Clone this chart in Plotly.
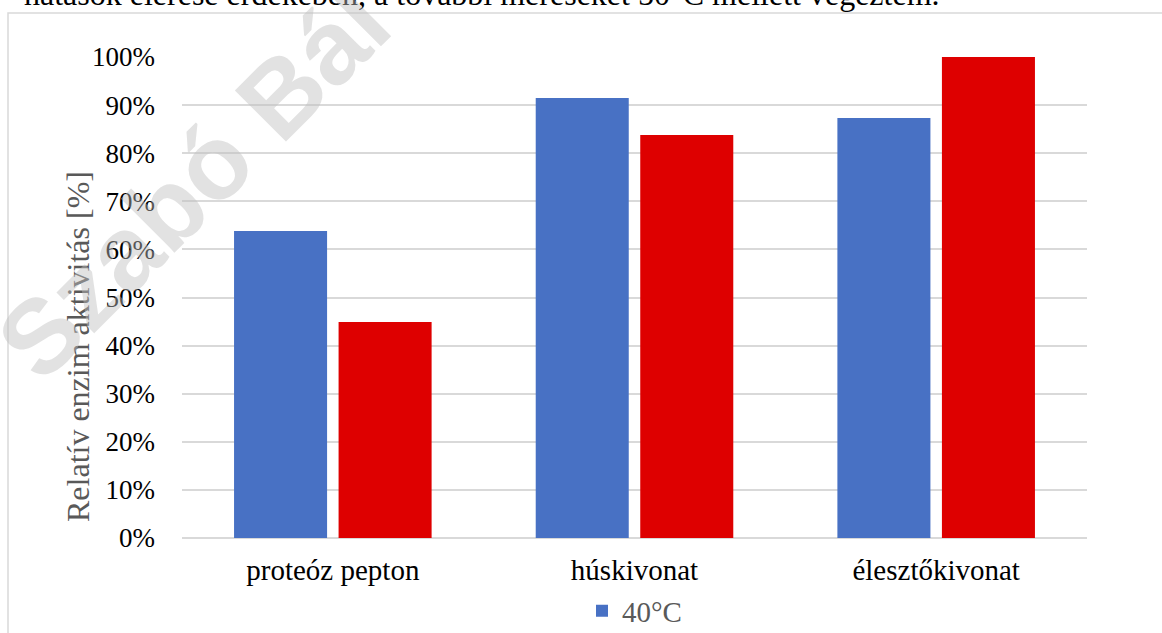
import plotly.graph_objects as go

# Nutrient sources and relative enzyme activity (%)
categories = ["proteóz pepton", "húskivonat", "élesztőkivonat"]
activity_40c = [63.8, 91.5, 87.3]
activity_50c = [44.9, 83.8, 100.0]
series_names = ["40°C", "50°C"]
y_ticks = [0, 10, 20, 30, 40, 50, 60, 70, 80, 90, 100]
y_tick_labels = [f"{v}%" for v in y_ticks]

SERIF = "Liberation Serif"
GRID = "#d9d9d9"

fig = go.Figure()
fig.add_trace(go.Bar(
    x=categories, y=activity_40c, name=series_names[0],
    marker=dict(color="#4871c4", line=dict(width=0)),
))
fig.add_trace(go.Bar(
    x=categories, y=activity_50c, name=series_names[1],
    marker=dict(color="#de0000", line=dict(width=0)),
    showlegend=False,
))

L, R, T, B = 182, 75, 57, 95
W, H = 1162, 633
pw, ph = W - L - R, H - T - B

def px_x(px):
    return (px - L) / pw

def px_y(py):
    return (H - B - py) / ph

fig.update_layout(
    width=W, height=H,
    margin=dict(l=L, r=R, t=T, b=B, pad=0, autoexpand=False),
    paper_bgcolor="white", plot_bgcolor="white",
    barmode="group", bargap=0.307, bargroupgap=0.11,
    font=dict(family=SERIF, color="black"),
    showlegend=True,
    legend=dict(
        orientation="h", x=0.5, xanchor="center", y=px_y(611), yanchor="middle",
        font=dict(size=29, color="#595959", family=SERIF),
        itemwidth=30, bgcolor="rgba(0,0,0,0)",
    ),
    xaxis=dict(
        showgrid=False, showline=False, zeroline=False, ticks="",
        tickfont=dict(size=29, color="black", family=SERIF), ticklabelstandoff=12,
    ),
    yaxis=dict(
        range=[0, 100], tickvals=y_ticks, ticktext=y_tick_labels,
        showgrid=True, gridcolor=GRID, gridwidth=2,
        zeroline=True, zerolinecolor=GRID, zerolinewidth=2,
        showline=False, ticks="",
        tickfont=dict(size=27, color="black", family=SERIF), ticklabelstandoff=26,
    ),
    shapes=[
        # outer chart frame (continues past the right and bottom edges)
        dict(type="rect", xref="paper", yref="paper",
             x0=px_x(8), x1=px_x(1200), y0=px_y(700), y1=px_y(13),
             line=dict(color=GRID, width=1.5), fillcolor="rgba(0,0,0,0)", layer="below"),
    ],
    annotations=[
        # y axis title
        dict(text="Relatív enzim aktivitás [%]", xref="paper", yref="paper",
             x=px_x(78), y=px_y(347), textangle=-90, showarrow=False,
             xanchor="center", yanchor="middle",
             font=dict(size=32, color="#595959", family=SERIF)),
        # running text of the page above the chart
        dict(text="hatások elérése érdekében, a további méréseket 50°C mellett végeztem.",
             xref="paper", yref="paper", x=px_x(22), y=px_y(14),
             xanchor="left", yanchor="bottom", showarrow=False,
             font=dict(size=32, color="black", family=SERIF)),
        # diagonal watermark
        dict(text="<b>Szabó Bál</b>", xref="paper", yref="paper",
             x=px_x(193), y=px_y(182), textangle=-45, showarrow=False,
             xanchor="center", yanchor="middle",
             font=dict(size=105, color="rgba(190,190,190,0.45)",
                       family="Liberation Sans"),),
    ],
)

fig.write_html("out.html")
